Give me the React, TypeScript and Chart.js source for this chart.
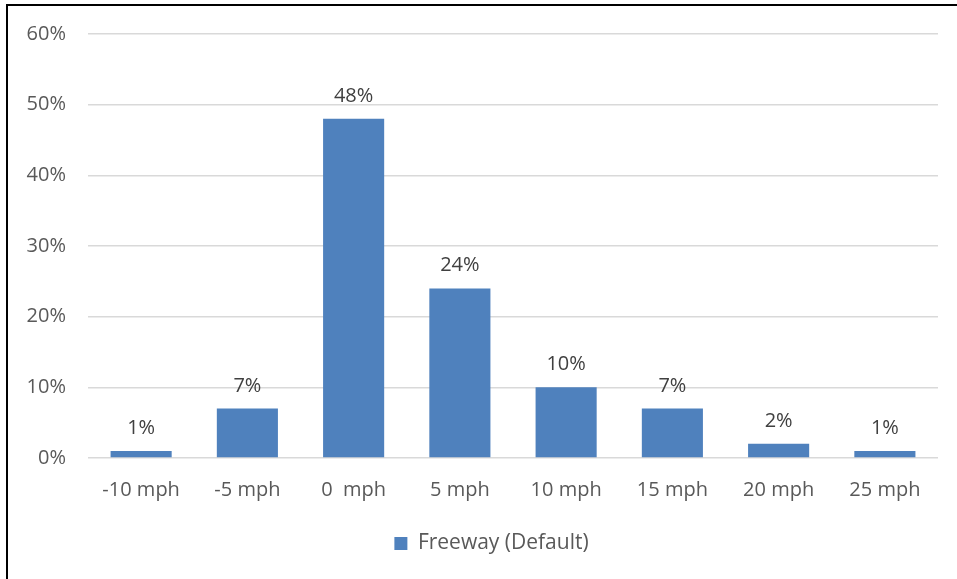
import React, { useEffect, useRef } from "react";
import { Chart, registerables } from "chart.js";

Chart.register(...registerables);

const categories = ["-10 mph", "-5 mph", "0  mph", "5 mph", "10 mph", "15 mph", "20 mph", "25 mph"];
const freewayValues = [1, 7, 48, 24, 10, 7, 2, 1];
const seriesLabel = "Freeway (Default)";
const yMax = 60;
const yStep = 10;

const FONT = "'Open Sans', Lato, sans-serif";
const TEXT = "#595959";
const BAR = "#4F81BD";

const dataLabelPlugin = {
  id: "dataLabels",
  afterDatasetsDraw(chart: any) {
    const ctx = chart.ctx;
    const meta = chart.getDatasetMeta(0);
    ctx.save();
    ctx.font = `20px ${FONT}`;
    ctx.fillStyle = "#404040";
    ctx.textAlign = "center";
    ctx.textBaseline = "alphabetic";
    meta.data.forEach((bar: any, i: number) => {
      const v = chart.data.datasets[0].data[i];
      ctx.fillText(`${v}%`, bar.x, bar.y - 17);
    });
    ctx.restore();
  },
};

// Center the legend under the plot area instead of under the full canvas
const legendCenterPlugin = {
  id: "legendCenter",
  afterLayout(chart: any) {
    const lg = chart.legend;
    if (lg) {
      lg.left = chart.chartArea.left - 43;
      lg.right = chart.chartArea.right;
    }
  },
};

export default function App() {
  const ref = useRef<HTMLCanvasElement | null>(null);
  useEffect(() => {
    if (!ref.current) return;
    const chart = new Chart(ref.current, {
      type: "bar",
      data: {
        labels: categories,
        datasets: [
          {
            label: seriesLabel,
            data: freewayValues,
            backgroundColor: BAR,
            borderWidth: 0,
            categoryPercentage: 1,
            barPercentage: 0.575,
          },
        ],
      },
      options: {
        responsive: false,
        animation: false,
        layout: { padding: { top: 34, right: 19, left: 0, bottom: 15 } },
        plugins: {
          tooltip: { enabled: false },
          legend: {
            position: "bottom",
            labels: {
              boxWidth: 13,
              boxHeight: 13,
              color: TEXT,
              font: { family: FONT, size: 21 },
              padding: 10,
            },
          },
        },
        scales: {
          x: {
            grid: { display: false },
            border: { display: false },
            ticks: { color: TEXT, font: { family: FONT, size: 20 }, padding: 12, maxRotation: 0 },
            afterFit: (s: any) => {
              s.height = 65;
            },
          },
          y: {
            min: 0,
            max: yMax,
            grid: { color: "#D9D9D9", lineWidth: 1.5, drawTicks: false },
            border: { display: false },
            ticks: {
              stepSize: yStep,
              color: TEXT,
              font: { family: FONT, size: 20 },
              padding: 22,
              callback: (v: any) => `${v}%`,
            },
            afterFit: (s: any) => {
              s.width = 88;
            },
          },
        },
      },
      plugins: [dataLabelPlugin, legendCenterPlugin],
    });
    return () => chart.destroy();
  }, []);
  return (
    <div style={{ position: "absolute", left: 0, top: 0, width: 957, height: 579, background: "#fff", overflow: "hidden" }}>
      <div
        style={{
          position: "absolute",
          left: 6,
          top: 4,
          width: 1000,
          height: 1000,
          borderLeft: "2px solid #000",
          borderTop: "2px solid #000",
        }}
      />
      <canvas ref={ref} width={957} height={579} style={{ position: "absolute", left: 0, top: 0 }} />
    </div>
  );
}
